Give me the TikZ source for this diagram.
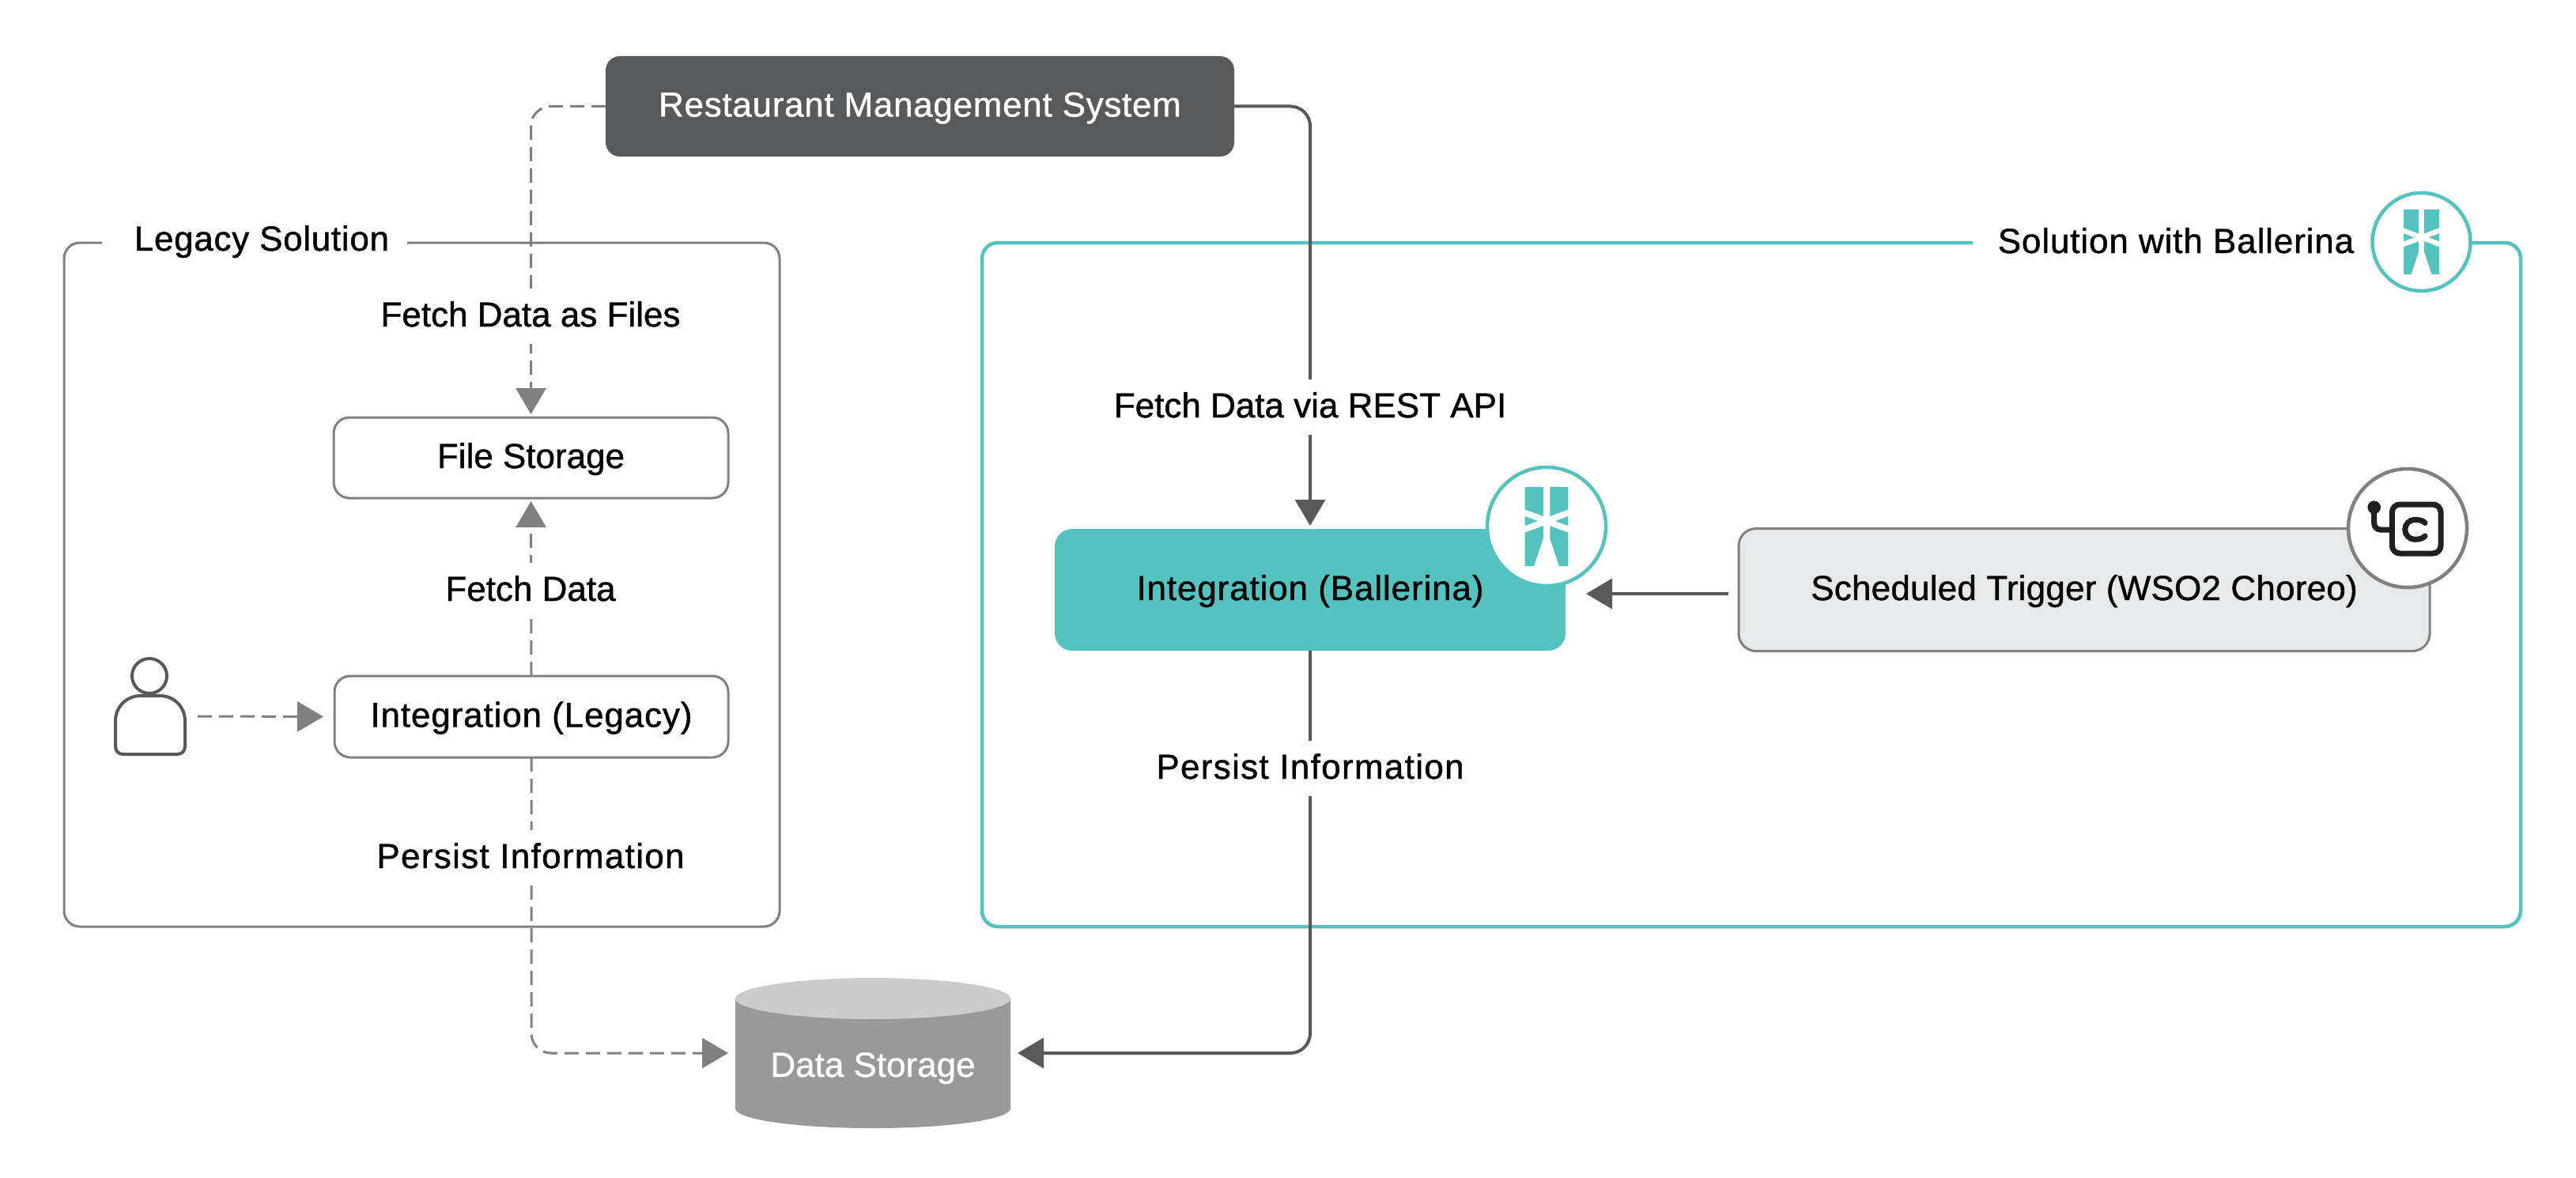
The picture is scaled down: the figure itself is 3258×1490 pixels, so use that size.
\documentclass[tikz,border=0pt]{standalone}
\usepackage{fontspec}
\setmainfont{Liberation Sans}[FakeBold=1]
\usetikzlibrary{arrows.meta}
\definecolor{balteal}{HTML}{54C3C0}
\definecolor{slate}{HTML}{58595B}
\definecolor{midgrey}{HTML}{808080}
\definecolor{iconink}{HTML}{231F20}
\definecolor{paleblue}{HTML}{E6E9EA}
\newcommand{\spc}[2]{{\addfontfeature{LetterSpace=#1}#2}}
\tikzset{
    txt/.style={font=\fontsize{44}{52}\selectfont,text height=32pt,text depth=6pt,inner sep=0pt,outer sep=0pt},
    box/.style={txt,draw=midgrey,line width=3pt,fill=white,rounded corners=20pt},
    frame/.style={draw=#1,rounded corners=20pt,outer sep=0pt,minimum height=865pt},
    caption/.style={txt,fill=white,minimum height=70pt,inner xsep=8pt},
    flowdash/.style={draw=midgrey,line width=3pt,dash pattern=on 18pt off 9pt,-{Triangle[length=33pt,width=38pt,fill=midgrey]},rounded corners=25pt},
    flowsolid/.style={draw=slate,line width=4pt,-{Triangle[length=33pt,width=38pt,fill=slate]},rounded corners=25pt},
    badge/.style={circle,draw=#1,fill=white,outer sep=0pt,inner sep=0pt},
    ballogo/.pic={
            \foreach \s in {1,-1}{
                    \fill[balteal,xscale=\s] (3.5,-41)--(22.5,-41)--(22.5,-17.7)--(3.5,-10.7)--cycle
                    (22.5,-10.7)--(9.2,-5.7)--(22.5,-.7)--cycle
                    (3.5,-.7)--(22.5,6.3)--(22.5,41)--(13,41)--(3.5,12.3)--cycle;}
        }
}
\begin{document}
\begin{tikzpicture}[x=1pt,y=-1pt]
    \useasboundingbox (0,0) rectangle (3258,1490);
    % the two solution frames
    \node[frame=midgrey,line width=3pt,minimum width=905pt] (legacy) at (533.5,739.5) {};
    \node[frame=balteal,line width=4.5pt,minimum width=1946pt] (ballerina) at (2215,739.5) {};
    \node[caption,minimum height=40pt,inner xsep=23pt] (legacytitle) at (322,304) {\hspace*{18pt}\spc{1.6}{Legacy Solution}};
    \node[caption,minimum height=40pt,inner xsep=32pt] (balltitle) at (2752,307) {\spc{2}{Solution with Ballerina}};
    % boxes
    \node[txt,fill=slate,text=white,rounded corners=18pt,minimum width=795pt,minimum height=127pt] (rms) at (1163.5,134.5) {\spc{1.6}{Restaurant Management System}};
    \node[box,minimum width=499pt,minimum height=102pt] (filestore) at (671.5,579) {File Storage};
    \node[box,minimum width=498pt,minimum height=103pt] (intlegacy) at (672,906.5) {\spc{2}{Integration (Legacy)}};
    \node[txt,fill=balteal,rounded corners=22pt,minimum width=646pt,minimum height=154pt] (intball) at (1657,746) {\spc{2}{Integration (Ballerina)}};
    \node[box,fill=paleblue,rounded corners=22pt,minimum width=874pt,minimum height=155pt] (trigger) at (2636,746) {\spc{0.5}{Scheduled Trigger (WSO2 Choreo)}};
    % data storage
    \fill[black!40] (930,1263) -- (930,1402) .. controls (930,1416) and (1008,1427) .. (1104,1427) .. controls (1200,1427) and (1278,1416) .. (1278,1402) -- (1278,1263) -- cycle;
    \fill[black!20] (1104,1263) ellipse[x radius=174pt,y radius=26pt];
    \node[txt,minimum width=348pt,minimum height=190pt,text=white,text height=60pt,text depth=0pt] (datastore) at (1104,1332) {Data Storage};
    % person
    \coordinate (user) at (250,906);
    \draw[slate,line width=4pt] (189,855) ellipse[x radius=22pt,y radius=22pt];
    \draw[slate,line width=4pt] (146,912) .. controls (146,894) and (160,880) .. (178,880) -- (202,880) .. controls (220,880) and (234,894) .. (234,912) -- (234,944) .. controls (234,950) and (230,954) .. (224,954) -- (156,954) .. controls (150,954) and (146,950) .. (146,944) -- cycle;
    % connectors
    \draw[flowdash,shorten >=4pt] (rms.west) -| (filestore.north);
    \draw[flowdash,shorten >=4pt] (intlegacy.north) -- (filestore.south);
    \draw[flowdash,shorten >=14pt] (user) -- (intlegacy.west);
    \draw[flowdash,shorten >=9pt] (intlegacy.south) |- (datastore.west);
    \draw[flowsolid,shorten >=4pt] (rms.east) -| (intball.north);
    \draw[flowsolid,shorten >=9pt] (intball.south) |- (datastore.east);
    \draw[flowsolid,shorten <=13pt,shorten >=26pt] ([yshift=-5pt]trigger.west) -- ([yshift=-5pt]intball.east);
    % captions
    \node[caption] (fetchfiles) at (671,400) {Fetch Data as Files};
    \node[caption] (fetchdata) at (671,747) {Fetch Data};
    \node[caption] (persistold) at (671,1085) {\spc{3}{Persist Information}};
    \node[caption] (fetchrest) at (1657,515) {Fetch Data via REST API};
    \node[caption] (persistnew) at (1657,972) {\spc{3}{Persist Information}};
    % badges
    \node[badge=balteal,line width=4.5pt,minimum size=124pt] (badgetop) at (3062.5,306) {};
    \pic at (badgetop) {ballogo};
    \node[badge=balteal,line width=4.5pt,minimum size=150pt] (badgeint) at (1956,666) {};
    \pic[scale=1.22] at (badgeint) {ballogo};
    \node[badge=midgrey,line width=4.5pt,minimum size=150pt] (badgechoreo) at (3045,668) {};
    \begin{scope}[shift={(badgechoreo)},iconink,line width=7pt,line cap=round]
        \draw[rounded corners=10pt] (-19.7,-30) rectangle (42,32);
        \fill (-42.3,-26.3) circle(8.3pt);
        \draw[rounded corners=8pt] (-42.3,-26.3) -- (-42.3,2) -- (-19.7,2);
        \draw (22,-6.5) .. controls (19.5,-9.5) and (14.5,-10.7) .. (9.2,-10.7) .. controls (2.3,-10.7) and (-3.3,-5.1) .. (-3.3,1.8) .. controls (-3.3,8.7) and (2.3,14.3) .. (9.2,14.3) .. controls (14.5,14.3) and (19.5,13) .. (22,10);
    \end{scope}
\end{tikzpicture}
\end{document}
